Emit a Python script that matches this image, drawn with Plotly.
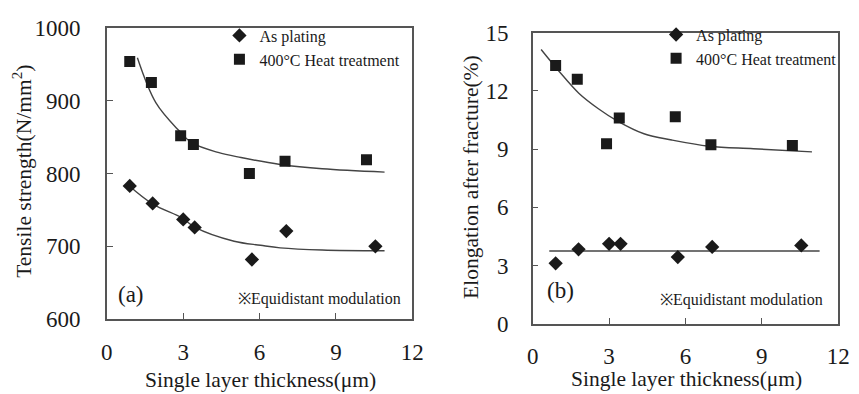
import plotly.graph_objects as go

# ---- data ----
# panel (a): tensile strength
a_as_x = [0.9, 1.8, 3.0, 3.45, 5.7, 7.05, 10.55]
a_as_y = [783, 759, 737, 726, 682, 721, 700]
a_ht_x = [0.9, 1.75, 2.9, 3.4, 5.6, 7.0, 10.2]
a_ht_y = [954, 925, 852, 840, 800, 817, 819]
# trend lines
a_ht_fit_x = [1.2, 1.93, 2.83, 3.35, 4.37, 5.27, 6.81, 8.46, 10.91]
a_ht_fit_y = [959, 897, 859, 842, 829, 822, 812.5, 806.5, 802]
a_as_fit_x = [0.85, 1.81, 2.96, 3.47, 5.0, 6.04, 6.81, 8.46, 10.91]
a_as_fit_y = [784, 758, 739, 726, 707, 701.5, 698, 695, 694]

# panel (b): elongation after fracture
b_as_x = [0.9, 1.8, 3.0, 3.45, 5.7, 7.05, 10.55]
b_as_y = [3.12, 3.84, 4.12, 4.12, 3.44, 3.96, 4.04]
b_ht_x = [0.9, 1.75, 2.9, 3.4, 5.6, 7.0, 10.2]
b_ht_y = [13.3, 12.6, 9.28, 10.6, 10.66, 9.23, 9.18]
b_ht_fit_x = [0.33, 1.04, 1.81, 2.58, 3.35, 4.37, 5.46, 6.93, 8.67, 10.97]
b_ht_fit_y = [14.13, 13.0, 11.88, 11.08, 10.43, 9.79, 9.47, 9.15, 9.02, 8.86]
b_as_fit_x = [0.65, 11.27]
b_as_fit_y = [3.75, 3.75]

x_ticks = [0, 3, 6, 9, 12]
a_y_ticks = [600, 700, 800, 900, 1000]
b_y_ticks = [0, 3, 6, 9, 12, 15]

FONT = "Liberation Serif"
INK = "#1a1a1a"
LINE = "#555555"
W, H = 859, 394

fig = go.Figure()

def add_panel(xa, ya, as_x, as_y, ht_x, ht_y, fx1, fy1, fx2, fy2, legend, shape):
    fig.add_trace(go.Scatter(x=fx1, y=fy1, mode="lines", line=dict(color="#444", width=1.4, shape=shape[0]),
                             xaxis=xa, yaxis=ya, showlegend=False, hoverinfo="skip"))
    fig.add_trace(go.Scatter(x=fx2, y=fy2, mode="lines", line=dict(color="#444", width=1.4, shape=shape[1]),
                             xaxis=xa, yaxis=ya, showlegend=False, hoverinfo="skip"))
    fig.add_trace(go.Scatter(x=as_x, y=as_y, mode="markers", name="As plating",
                             marker=dict(symbol="diamond", size=11, color=INK),
                             xaxis=xa, yaxis=ya, legend=legend))
    fig.add_trace(go.Scatter(x=ht_x, y=ht_y, mode="markers", name="400°C Heat treatment",
                             marker=dict(symbol="square", size=11, color=INK),
                             xaxis=xa, yaxis=ya, legend=legend))

add_panel("x", "y", a_as_x, a_as_y, a_ht_x, a_ht_y, a_as_fit_x, a_as_fit_y, a_ht_fit_x, a_ht_fit_y,
          "legend", ("spline", "spline"))
add_panel("x2", "y2", b_as_x, b_as_y, b_ht_x, b_ht_y, b_as_fit_x, b_as_fit_y, b_ht_fit_x, b_ht_fit_y,
          "legend2", ("linear", "spline"))

axis_common = dict(showgrid=False, zeroline=False, showline=True, linecolor=LINE, linewidth=1.5,
                   mirror=True, ticks="inside", ticklen=6, tickwidth=1.2, tickcolor=LINE,
                   tickfont=dict(family=FONT, size=23, color=INK))

fig.update_layout(
    width=W, height=H, margin=dict(l=0, r=0, t=0, b=0),
    paper_bgcolor="white", plot_bgcolor="white",
    font=dict(family=FONT, color=INK),
    xaxis=dict(domain=[103 / W, 415 / W], range=[0, 12], tickvals=x_ticks, anchor="y",
               ticklabelstandoff=11, **axis_common),
    yaxis=dict(domain=[1 - 328 / H, 1 - 17 / H], range=[600, 1000], tickvals=a_y_ticks, anchor="x",
               ticklabelstandoff=20, **axis_common),
    xaxis2=dict(domain=[538 / W, 850 / W], range=[0, 12], tickvals=x_ticks, anchor="y2",
                ticklabelstandoff=11, **axis_common),
    yaxis2=dict(domain=[1 - 333 / H, 1 - 22 / H], range=[0, 15], tickvals=b_y_ticks, anchor="x2",
                ticklabelstandoff=18, **axis_common),
    legend=dict(x=218 / W, y=1 - 7 / H, xanchor="left", yanchor="top", bgcolor="rgba(0,0,0,0)",
                font=dict(family=FONT, size=16, color=INK), tracegroupgap=0, itemwidth=30),
    legend2=dict(x=664 / W, y=1 - 6 / H, xanchor="left", yanchor="top", bgcolor="rgba(0,0,0,0)",
                 font=dict(family=FONT, size=16, color=INK), tracegroupgap=0, itemwidth=30),
)

def ann(text, px, py, size, angle=0, xanchor="center"):
    fig.add_annotation(text=text, x=px / W, y=1 - py / H, xref="paper", yref="paper",
                       showarrow=False, textangle=angle, xanchor=xanchor, yanchor="middle",
                       font=dict(family=FONT, size=size, color=INK))

ann("Tensile strength(N/mm<sup>2</sup>)", 17, 170, 21.5, angle=-90)
ann("Elongation after fracture(%)", 475, 176, 21.5, angle=-90)
ann("Single layer thickness(μm)", 260, 393, 21.5)
ann("Single layer thickness(μm)", 695, 392, 21.5)
ann("(a)", 112, 302, 23, xanchor="left")
ann("(b)", 551, 297, 23, xanchor="left")
ann("※Equidistant modulation", 405, 306, 16, xanchor="right")
ann("※Equidistant modulation", 837, 308, 16, xanchor="right")

fig.write_html("out.html")
